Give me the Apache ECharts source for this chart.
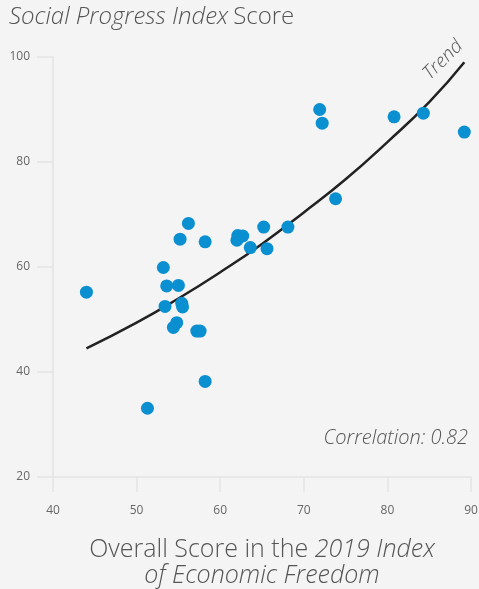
<!DOCTYPE html>
<html>
<head>
<meta charset="utf-8">
<script src="https://cdn.jsdelivr.net/npm/echarts@6/dist/echarts.min.js"></script>
<style>
  html, body { margin: 0; padding: 0; background: #f4f4f4; }
  #chart { width: 479px; height: 589px; }
</style>
</head>
<body>
<div id="chart"></div>
<script>
// economic freedom score (x) vs social progress index score (y)
var freedomScores = [44.0, 56.2, 55.2, 58.2, 62.1, 62.7, 62.0, 65.2, 63.6, 65.6, 68.1,
    53.2, 53.6, 55.0, 53.4, 55.4, 55.5, 54.4, 54.8, 57.2, 57.6, 58.2, 51.3,
    71.9, 72.2, 73.8, 80.8, 84.3, 89.2];
var progressScores = [55.2, 68.3, 65.3, 64.8, 66.0, 65.9, 65.1, 67.6, 63.7, 63.5, 67.6,
    59.9, 56.4, 56.5, 52.5, 53.1, 52.4, 48.5, 49.4, 47.8, 47.8, 38.2, 33.1,
    90.0, 87.4, 73.0, 88.6, 89.3, 85.7];

// trend curve
var trendX = [44, 50, 55, 60, 65, 70, 75, 80, 85, 89.2];
var trendY = [44.5, 49.4, 54.0, 59.0, 64.4, 70.4, 76.7, 83.8, 91.4, 99.0];

var xTicks = [40, 50, 60, 70, 80, 90];
var yTicks = [20, 40, 60, 80, 100];

var fontFamily = '"Open Sans"';
var axisGray = '#e3e3e3';
var textGray = '#555555';

var points = freedomScores.map(function (x, i) { return [x, progressScores[i]]; });
var trend = trendX.map(function (x, i) { return [x, trendY[i]]; });

var chart = echarts.init(document.getElementById('chart'));

var option = {
    backgroundColor: '#f4f4f4',
    animation: false,
    title: {
        left: 4,
        top: 0,
        text: '{i|Social Progress Index} {n|Score}',
        textStyle: {
            fontWeight: 300,
            rich: {
                i: { fontFamily: fontFamily, fontSize: 24, fontStyle: 'italic', fontWeight: 300, color: textGray },
                n: { fontFamily: fontFamily, fontSize: 24, fontWeight: 300, color: textGray }
            }
        }
    },
    grid: {
        left: 53,
        right: 8,
        top: 57,
        bottom: 112,
        outerBoundsMode: 'none'
    },
    xAxis: {
        type: 'value',
        min: xTicks[0],
        max: xTicks[xTicks.length - 1],
        interval: 10,
        name: '{n|Overall Score in the }{i|2019 Index}\n{i|of Economic Freedom}',
        nameLocation: 'middle',
        nameGap: 60,
        nameTextStyle: {
            lineHeight: 26,
            rich: {
                n: { fontFamily: fontFamily, fontSize: 25, fontWeight: 300, color: textGray, lineHeight: 26 },
                i: { fontFamily: fontFamily, fontSize: 25, fontStyle: 'italic', fontWeight: 300, color: textGray, lineHeight: 26 }
            }
        },
        axisLine: { show: true, onZero: false, lineStyle: { color: axisGray, width: 1.5 } },
        axisTick: { show: true, length: 15, lineStyle: { color: axisGray, width: 1.5 } },
        axisLabel: { margin: 28, color: '#666', fontSize: 12, fontFamily: fontFamily },
        splitLine: { show: false }
    },
    yAxis: {
        type: 'value',
        min: yTicks[0],
        max: yTicks[yTicks.length - 1],
        interval: 20,
        axisLine: { show: true, onZero: false, lineStyle: { color: axisGray, width: 1.5 } },
        axisTick: { show: true, length: 16, lineStyle: { color: axisGray, width: 1.5 } },
        axisLabel: { margin: 23, color: '#666', fontSize: 12, fontFamily: fontFamily },
        splitLine: { show: false }
    },
    graphic: [{
        type: 'text',
        right: 11,
        top: 428,
        style: {
            text: 'Correlation: 0.82',
            font: 'italic 300 20px ' + fontFamily,
            fill: textGray
        }
    }, {
        type: 'text',
        x: 443,
        y: 60,
        rotation: 45 * Math.PI / 180,
        style: {
            text: 'Trend',
            font: 'italic 300 19px ' + fontFamily,
            fill: textGray,
            align: 'center',
            verticalAlign: 'middle'
        }
    }],
    series: [{
        name: 'Trend',
        type: 'line',
        data: trend,
        smooth: true,
        showSymbol: false,
        lineStyle: { color: '#222', width: 2.5 },
        z: 3
    }, {
        name: 'Countries',
        type: 'scatter',
        data: points,
        symbolSize: 13,
        itemStyle: { color: '#0a8fd0', opacity: 1 },
        z: 4
    }]
};

chart.setOption(option);
</script>
</body>
</html>
